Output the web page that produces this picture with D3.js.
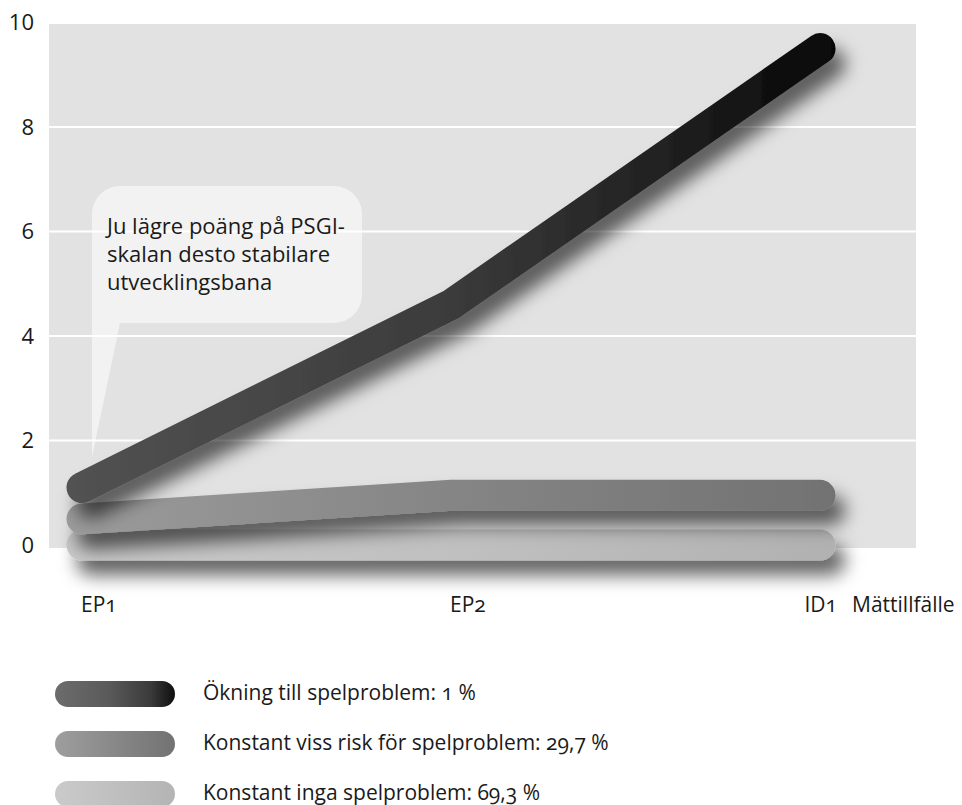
<!DOCTYPE html>
<html lang="sv">
<head>
<meta charset="utf-8">
<script src="https://cdn.jsdelivr.net/npm/d3@7"></script>
<style>
  html, body { margin: 0; padding: 0; background: #fff; }
  svg { display: block; }
  text { font-family: "Open Sans", "Noto Sans", sans-serif; fill: #1a1a1a; }
  .onum { font-feature-settings: "onum" 1; font-variant-numeric: oldstyle-nums; }
</style>
</head>
<body>
<svg id="chart" width="962" height="805"></svg>
<script>
// Mättillfällen och y-axelns skala
const categories = ["EP1", "EP2", "ID1"];
const yTicks = [0, 2, 4, 6, 8, 10];
const gridValues = [2, 4, 6, 8];

// Medelpoäng på PSGI-skalan per utvecklingsbana
const okningValues = [1.1, 4.6, 9.5];
const vissRiskValues = [0.5, 0.95, 0.95];
const ingaValues = [0, 0, 0];

const seriesLabels = [
  "Ökning till spelproblem: 1 %",
  "Konstant viss risk för spelproblem: 29,7 %",
  "Konstant inga spelproblem: 69,3 %"
];
const calloutLines = ["Ju lägre poäng på PSGI-", "skalan desto stabilare", "utvecklingsbana"];
const xAxisTitle = "Mättillfälle";

// Gråskalor för linjerna (vänster -> höger)
const lineStops = [
  [["0%", "#525252"], ["50%", "#3b3b3b"], ["80%", "#1e1e1e"], ["100%", "#060606"]],
  [["0%", "#9b9b9b"], ["50%", "#858585"], ["100%", "#727272"]],
  [["0%", "#c9c9c9"], ["50%", "#c0c0c0"], ["100%", "#b1b1b1"]]
];
const swatchStops = [
  [["0%", "#6c6c6c"], ["45%", "#5a5a5a"], ["80%", "#3a3a3a"], ["100%", "#0e0e0e"]],
  [["0%", "#9e9e9e"], ["100%", "#727272"]],
  [["0%", "#cacaca"], ["100%", "#b4b4b4"]]
];

const series = [
  { values: okningValues },
  { values: vissRiskValues },
  { values: ingaValues }
];

const svg = d3.select("#chart");
const W = 962, H = 805;
const plot = { left: 49, right: 916 };
const x = d3.scalePoint().domain(categories).range([82, 820]);
const y = d3.scaleLinear().domain([0, 10]).range([545, 22.5]);

const defs = svg.append("defs");
function addGradient(id, stops, x1, x2) {
  const g = defs.append("linearGradient").attr("id", id)
    .attr("gradientUnits", "userSpaceOnUse")
    .attr("x1", x1).attr("x2", x2).attr("y1", 0).attr("y2", 0);
  stops.forEach(([o, c]) => g.append("stop").attr("offset", o).attr("stop-color", c));
}
lineStops.forEach((s, i) => addGradient("line" + i, s, 66, 836));
swatchStops.forEach((s, i) => addGradient("swatch" + i, s, 55, 175));

// Skugga i användarkoordinater så att även vågräta linjer får den
const shadow = defs.append("filter").attr("id", "shadow")
  .attr("filterUnits", "userSpaceOnUse")
  .attr("x", 0).attr("y", 0).attr("width", W).attr("height", H);
shadow.append("feDropShadow")
  .attr("dx", 10).attr("dy", 15).attr("stdDeviation", 9)
  .attr("flood-color", "#000").attr("flood-opacity", 0.6);

// Diagramyta
svg.append("rect")
  .attr("x", plot.left).attr("y", y(10) + 1.5)
  .attr("width", plot.right - plot.left).attr("height", y(0) + 3 - (y(10) + 1.5))
  .attr("fill", "#e2e2e2");

svg.append("g").selectAll("line").data(gridValues).join("line")
  .attr("x1", plot.left).attr("x2", plot.right)
  .attr("y1", d => y(d)).attr("y2", d => y(d))
  .attr("stroke", "#fff").attr("stroke-width", 2.2);

// Y-axel
const yAxis = svg.append("g").attr("transform", "translate(34,0)")
  .call(d3.axisLeft(y).tickValues(yTicks).tickSize(0).tickPadding(0).tickFormat(d3.format("d")));
yAxis.select(".domain").remove();
yAxis.selectAll("text")
  .style("font-family", "'Open Sans', sans-serif")
  .style("font-size", "22px").attr("fill", "#1a1a1a");

// Pratbubbla
const b = { x0: 92, x1: 362, y0: 186, y1: 323, r: 28, tailX: 120, tipY: 457 };
const bubblePath = d3.path();
bubblePath.moveTo(b.x0 + b.r, b.y0);
bubblePath.lineTo(b.x1 - b.r, b.y0);
bubblePath.arcTo(b.x1, b.y0, b.x1, b.y0 + b.r, b.r);
bubblePath.lineTo(b.x1, b.y1 - b.r);
bubblePath.arcTo(b.x1, b.y1, b.x1 - b.r, b.y1, b.r);
bubblePath.lineTo(b.tailX, b.y1);
bubblePath.lineTo(b.x0, b.tipY);
bubblePath.lineTo(b.x0, b.y0 + b.r);
bubblePath.arcTo(b.x0, b.y0, b.x0 + b.r, b.y0, b.r);
bubblePath.closePath();
svg.append("path").attr("d", bubblePath.toString())
  .attr("fill", "#fff").attr("fill-opacity", 0.55);

svg.append("g").selectAll("text").data(calloutLines).join("text")
  .attr("x", 107).attr("y", (d, i) => 234 + i * 28)
  .style("font-size", "22px").text(d => d);

// Linjer (ljusast underst)
const line = d3.line().x((d, i) => x(categories[i])).y(d => y(d));
const order = [2, 1, 0];
svg.append("g").selectAll("path").data(order).join("path")
  .attr("d", i => line(series[i].values))
  .attr("fill", "none")
  .attr("stroke", i => `url(#line${i})`)
  .attr("stroke-width", 31)
  .attr("stroke-linecap", "round")
  .attr("stroke-linejoin", "miter")
  .attr("filter", "url(#shadow)");

// X-axelns etiketter
svg.append("g").selectAll("text").data(categories).join("text")
  .attr("class", "onum")
  .attr("x", (d, i) => i === categories.length - 1 ? x(d) + 17 : x(d) - 1)
  .attr("y", 612)
  .attr("text-anchor", (d, i) => i === categories.length - 1 ? "end" : "start")
  .style("font-size", "21px").text(d => d);
svg.append("text").attr("x", 852).attr("y", 612)
  .style("font-size", "21px").text(xAxisTitle);

// Teckenförklaring
const legend = svg.append("g").selectAll("g").data(seriesLabels).join("g")
  .attr("transform", (d, i) => `translate(0,${694 + i * 50})`);
legend.append("rect")
  .attr("x", 55).attr("y", -13).attr("width", 120).attr("height", 26)
  .attr("rx", 13).attr("fill", (d, i) => `url(#swatch${i})`);
legend.append("text")
  .attr("class", "onum")
  .attr("x", 203).attr("y", 6)
  .style("font-size", "21px").text(d => d);
</script>
</body>
</html>
